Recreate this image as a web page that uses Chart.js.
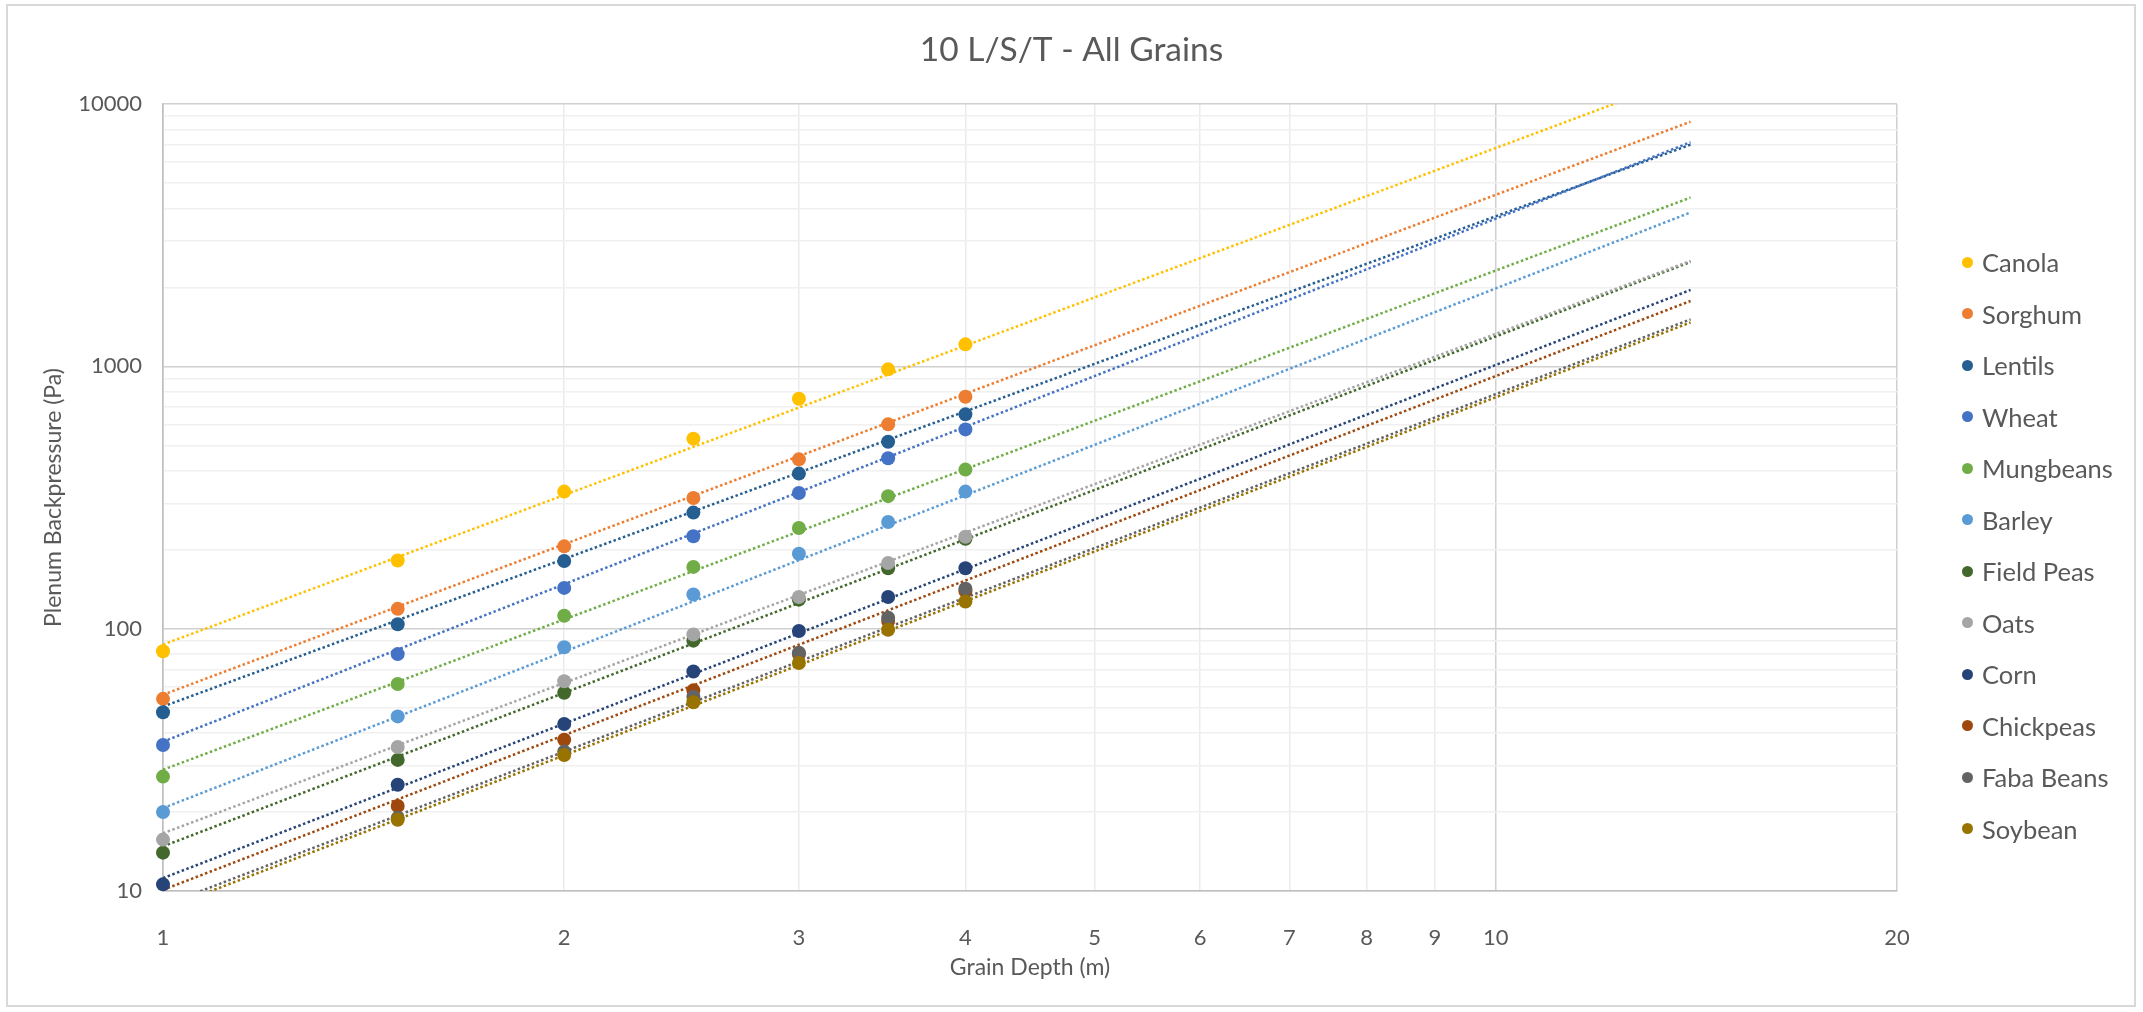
<!DOCTYPE html>
<html>
<head>
<meta charset="utf-8">
<script src="https://cdn.jsdelivr.net/npm/chart.js@4.4.1/dist/chart.umd.min.js"></script>
<style>
  html, body { margin: 0; padding: 0; background: #ffffff; }
  #wrap { position: relative; width: 2143px; height: 1012px; overflow: hidden; background: #fff; }
  #c { position: absolute; left: 0; top: 0; }
  #frame { position: absolute; left: 6px; top: 4px; width: 2130px; height: 1003px; border: 2px solid #D9D9D9; box-sizing: border-box; pointer-events: none; }
  #legend { position: absolute; left: 0; top: 0; font-family: Lato, "Open Sans", sans-serif; font-size: 25.5px; color: #595959; }
  .li { position: absolute; display: flex; align-items: center; height: 32px; white-space: nowrap; }
  .dot { width: 11px; height: 11px; border-radius: 50%; margin-right: 9px; flex: none; }
</style>
</head>
<body>
<div id="wrap">
  <canvas id="c" width="2143" height="1012"></canvas>
  <div id="frame"></div>
  <div id="legend"></div>
</div>
<script>
// ---------------- data ----------------
const chartTitle = '10 L/S/T - All Grains';
const xTitle = 'Grain Depth (m)';
const yTitle = 'Plenum Backpressure (Pa)';

const depths = [1, 1.5, 2, 2.5, 3, 3.5, 4];

const grains = ['Canola', 'Sorghum', 'Lentils', 'Wheat', 'Mungbeans', 'Barley',
                'Field Peas', 'Oats', 'Corn', 'Chickpeas', 'Faba Beans', 'Soybean'];

const canola    = [82,   182, 333, 530, 752, 974, 1213];
const sorghum   = [54,   119, 206, 315, 442, 601, 766];
const lentils   = [48,   104, 181, 277, 390, 516, 656];
const wheat     = [36,   80,  143, 225, 329, 446, 575];
const mungbeans = [27.3, 61.5, 112, 172, 242, 320, 404];
const barley    = [20,   46.3, 85,  135, 193, 255, 333];
const fieldPeas = [14,   31.6, 57,  90,  129, 170, 220];
const oats      = [15.7, 35.4, 63,  95,  132, 178, 224];
const corn      = [10.6, 25.4, 43.3, 68.7, 98, 132, 170];
const chickpeas = [null, 21.1, 37.7, 58.2, 80, 107, 139];
const fabaBeans = [null, 19,   34,  55,  81, 110, 142];
const soybean   = [null, 18.7, 33,  52.4, 74, 99, 127];

// dotted power trend lines: value at depth 1 and at the forecast end (depth 14)
const trendX     = [1, 14];
const trendStart = [87, 56, 50.5, 37.1, 29, 20.7, 14.8, 16.6, 11.2, 10.1, 8.8, 8.5];
const trendEnd   = [12850, 8560, 7000, 7150, 4400, 3860, 2500, 2523, 1955, 1775, 1510, 1470];

const colors = ['#FFC000', '#ED7D31', '#255E91', '#4472C4', '#70AD47', '#5B9BD5',
                '#43682B', '#A5A5A5', '#264478', '#9E480E', '#636363', '#997300'];

const xTickValues = [1, 2, 3, 4, 5, 6, 7, 8, 9, 10, 20];
const yTickLabels = [10, 100, 1000, 10000];

// ---------------- build ----------------
const seriesValues = [canola, sorghum, lentils, wheat, mungbeans, barley,
                      fieldPeas, oats, corn, chickpeas, fabaBeans, soybean];

const yGridValues = [];
for (let d = 0; d < yTickLabels.length - 1; d++) {
  for (let m = 1; m <= 9; m++) yGridValues.push(m * yTickLabels[d]);
}
yGridValues.push(yTickLabels[yTickLabels.length - 1]);

const datasets = [];
grains.forEach((name, i) => {
  datasets.push({
    label: name,
    data: depths.map((x, k) => ({ x: x, y: seriesValues[i][k] })).filter(p => p.y !== null),
    backgroundColor: colors[i],
    borderColor: colors[i],
    pointRadius: 7,
    pointBorderWidth: 0,
    pointHoverRadius: 7,
    showLine: false,
    clip: 12,
    order: grains.length - i
  });
});
grains.forEach((name, i) => {
  datasets.push({
    label: name + ' trend',
    data: [{ x: trendX[0], y: trendStart[i] }, { x: trendX[1], y: trendEnd[i] }],
    borderColor: colors[i],
    backgroundColor: colors[i],
    borderWidth: 2.5,
    borderDash: [2.5, 2.5],
    pointRadius: 0,
    showLine: true,
    order: 100 + grains.length - i
  });
});

const FONT = 'Lato, "Open Sans", sans-serif';
const TXT = '#595959';

new Chart(document.getElementById('c'), {
  type: 'scatter',
  data: { datasets: datasets },
  options: {
    responsive: false,
    animation: false,
    devicePixelRatio: 1,
    layout: { padding: { left: 0, right: 0, top: 0, bottom: 0 } },
    plugins: {
      legend: { display: false },
      tooltip: { enabled: false },
      title: {
        display: true,
        text: chartTitle,
        color: TXT,
        font: { family: FONT, size: 33.5, weight: 'normal' },
        padding: { top: 30, bottom: 33.8 }
      }
    },
    scales: {
      x: {
        type: 'logarithmic',
        position: 'bottom',
        min: 1,
        max: 20,
        afterBuildTicks: s => { s.ticks = xTickValues.map(v => ({ value: v })); },
        afterFit: s => { s.height = 121; },
        ticks: {
          autoSkip: false,
          maxRotation: 0,
          padding: 34,
          color: TXT,
          font: { family: FONT, size: 22 },
          callback: v => String(v)
        },
        grid: {
          drawTicks: false,
          lineWidth: 1.5,
          color: ctx => {
            const v = ctx.tick ? ctx.tick.value : 0;
            if (v === 1) return '#BFBFBF';
            return (v === 10 || v === 20) ? '#D0D0D0' : '#EBEBEB';
          }
        },
        border: { color: '#BFBFBF', width: 1.5 },
        title: {
          display: true,
          text: xTitle,
          color: TXT,
          font: { family: FONT, size: 23 },
          padding: { top: 0, bottom: 31 }
        }
      },
      y: {
        type: 'logarithmic',
        position: 'left',
        min: 10,
        max: 10000,
        afterBuildTicks: s => { s.ticks = yGridValues.map(v => ({ value: v })); },
        afterFit: s => { s.width = 163; },
        ticks: {
          autoSkip: false,
          padding: 21,
          color: TXT,
          font: { family: FONT, size: 22 },
          callback: v => (yTickLabels.includes(v) ? String(v) : '')
        },
        grid: {
          drawTicks: false,
          lineWidth: 1.5,
          color: ctx => {
            const v = ctx.tick ? ctx.tick.value : 0;
            return yTickLabels.includes(v) ? '#D0D0D0' : '#F0F0F0';
          }
        },
        border: { color: '#BFBFBF', width: 1.5 },
        title: {
          display: true,
          text: yTitle,
          color: TXT,
          font: { family: FONT, size: 23 },
          padding: { top: 40, bottom: 0 }
        }
      },
      yPad: {
        type: 'linear',
        position: 'right',
        display: true,
        afterFit: s => { s.width = 246; },
        ticks: { display: false },
        grid: { display: false, drawTicks: false },
        border: { display: false }
      }
    }
  }
});

// HTML legend from the same series list
const legendEl = document.getElementById('legend');
grains.forEach((name, i) => {
  const item = document.createElement('div');
  item.className = 'li';
  item.style.left = '1962px';
  item.style.top = (262 + i * 51.5 - 16) + 'px';
  const dot = document.createElement('span');
  dot.className = 'dot';
  dot.style.background = colors[i];
  const txt = document.createElement('span');
  txt.textContent = name;
  item.appendChild(dot);
  item.appendChild(txt);
  legendEl.appendChild(item);
});
</script>
</body>
</html>
